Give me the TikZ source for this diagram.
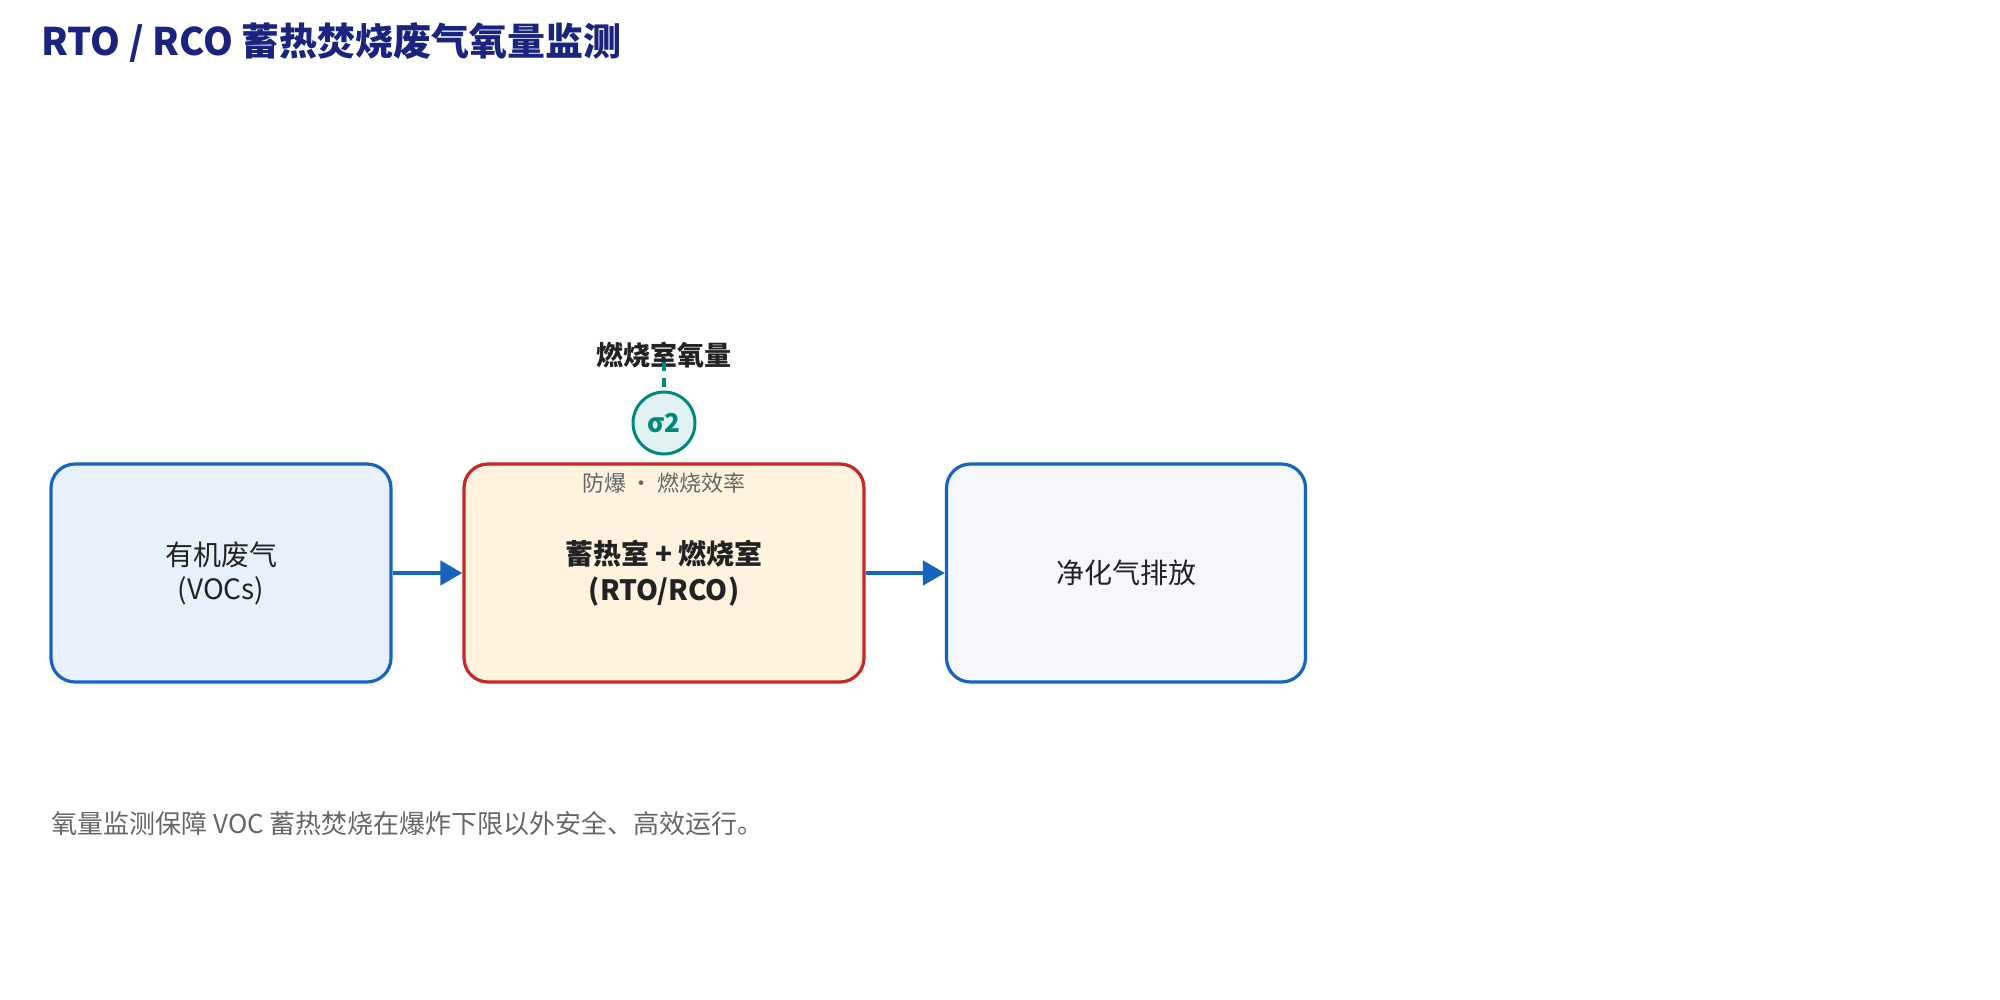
\documentclass[tikz,border=0pt]{standalone}
\usepackage{fontspec}
\setmainfont{Noto Sans CJK SC}
\usetikzlibrary{arrows.meta}
\definecolor{bl}{HTML}{1565C0}
\definecolor{blf}{HTML}{E8F0FC}
\definecolor{rd}{HTML}{C62828}
\definecolor{orf}{HTML}{FFF3E0}
\definecolor{grf}{HTML}{F5F7FA}
\definecolor{tl}{HTML}{00897B}
\definecolor{tlf}{HTML}{E0F2F1}
\definecolor{ttl}{HTML}{1A237E}
\definecolor{tx}{HTML}{222222}
\definecolor{gy}{HTML}{666666}
\begin{document}
\begin{tikzpicture}[x=1pt,y=-1pt,
 box/.style={draw=bl,line width=3.2pt,rounded corners=24pt,inner sep=0pt,font=\fontsize{28}{34}\selectfont,text=tx,align=center},
 flow/.style={draw=bl,line width=4.5pt,-{Triangle[length=22pt,width=24pt]}}]
\useasboundingbox (0,0) rectangle (2000,1000);
\node[anchor=west,font=\fontsize{38}{44}\selectfont\bfseries,text=ttl] (title) at (38,43) {RTO / RCO 蓄热焚烧废气氧量监测};
\node[box,fill=blf,minimum width=340pt,minimum height=218pt] (a) at (221,573) {有机废气\\(VOCs)};
\node[box,draw=rd,fill=orf,minimum width=400pt,minimum height=218pt,font=\fontsize{28}{36}\selectfont\bfseries] (b) at (664,573) {蓄热室 + 燃烧室\\(RTO/RCO)};
\node[box,fill=grf,minimum width=359pt,minimum height=218pt] (c) at (1126,573) {净化气排放};
\draw[flow] (a.east) -- (b.west);
\draw[flow] (b.east) -- (c.west);
\node[font=\fontsize{22}{26}\selectfont,text=gy] (sub) at (664,483) {防爆 · 燃烧效率};
\node[circle,draw=tl,fill=tlf,line width=3pt,minimum size=62pt,inner sep=0pt,font=\fontsize{26}{30}\selectfont\bfseries,text=tl] (o) at (664,423) {σ2};
\node[font=\fontsize{27}{32}\selectfont\bfseries,text=tx] (lab) at (664,355) {燃烧室氧量};
\draw[tl,line width=3.5pt,dash pattern=on 9pt off 7pt] (lab.center) ++(0,7) coordinate (t) (t) -- (o.north);
\node[anchor=west,font=\fontsize{26}{30}\selectfont,text=gy] (note) at (48,824) {氧量监测保障 VOC 蓄热焚烧在爆炸下限以外安全、高效运行。};
\end{tikzpicture}
\end{document}
